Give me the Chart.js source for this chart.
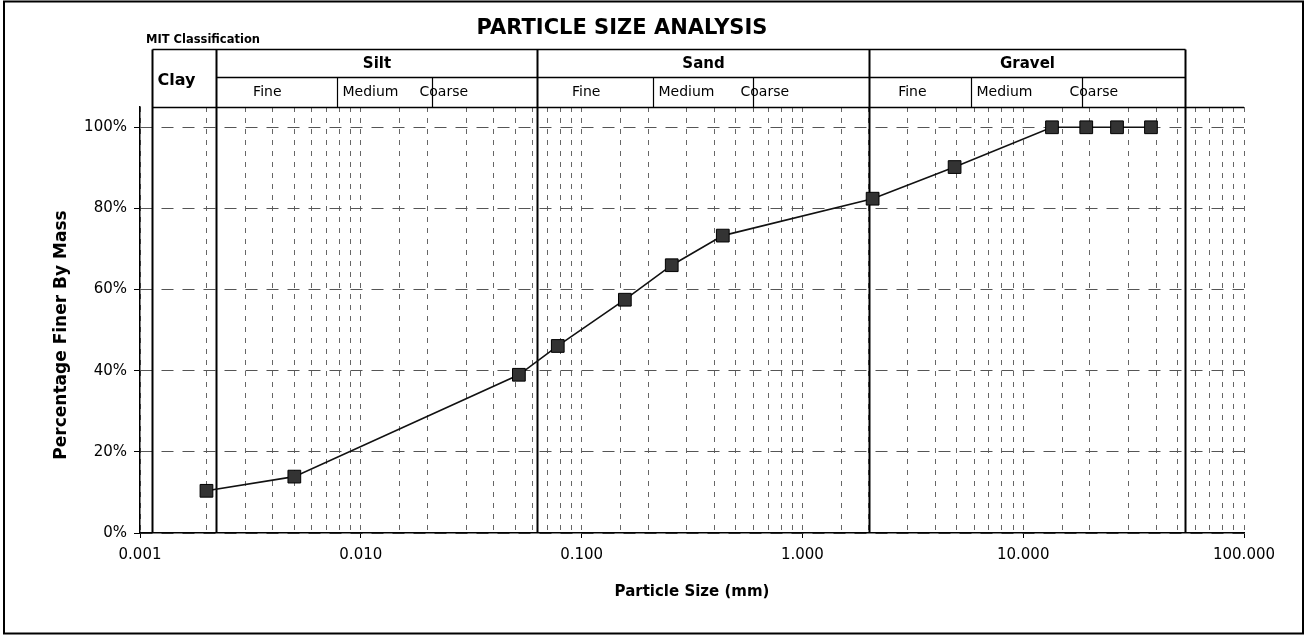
<!DOCTYPE html>
<html>
<head>
<meta charset="utf-8">
<title>Particle Size Analysis</title>
<script src="https://cdn.jsdelivr.net/npm/chart.js@4.4.1/dist/chart.umd.min.js"></script>
<style>
  html, body { margin: 0; padding: 0; background: #fff; }
  #wrap { width: 1311px; height: 637px; position: relative; }
</style>
</head>
<body>
<div id="wrap"><canvas id="psdChart"></canvas></div>
<script>
// sieve / hydrometer results
const particleSize = [0.002, 0.005, 0.052, 0.078, 0.157, 0.256, 0.436, 2.08, 4.89, 13.5, 19.3, 26.6, 37.9];
const percentFiner = [10.4, 13.9, 39.0, 46.1, 57.5, 66.0, 73.3, 82.4, 90.2, 100, 100, 100, 100];

// MIT classification as drawn on the sheet (mm)
const mainClasses = ["Clay", "Silt", "Sand", "Gravel"];
const mainLimits = [0.00113, 0.0022, 0.063, 2.0, 54];
const subClasses = ["Fine", "Medium", "Coarse"];
const siltSplits = [0.0078, 0.021];
const sandSplits = [0.21, 0.6];
const gravelSplits = [5.8, 18.5];

const FONT = "DejaVu Sans";
Chart.defaults.font.family = FONT;
Chart.defaults.color = "#000";

function isDecade(v) {
  const l = Math.log10(v);
  return Math.abs(l - Math.round(l)) < 1e-9;
}

const mitTable = {
  id: "mitTable",
  beforeDatasetsDraw(chart) {
    const ctx = chart.ctx;
    const xs = chart.scales.x;
    const area = chart.chartArea;
    const px = v => Math.round(xs.getPixelForValue(v)) + 0.5;
    const top = 49.5, mid = 77.5, bot = area.top + 0.5;

    ctx.save();
    ctx.strokeStyle = "#000";

    // heavy boundary lines, through the table and down to the axis
    ctx.lineWidth = 2;
    mainLimits.forEach(v => {
      ctx.beginPath();
      ctx.moveTo(px(v), top);
      ctx.lineTo(px(v), area.bottom);
      ctx.stroke();
    });

    ctx.lineWidth = 1.5;
    ctx.beginPath();
    ctx.moveTo(px(mainLimits[0]), top);
    ctx.lineTo(px(mainLimits[4]), top);
    ctx.moveTo(px(mainLimits[1]), mid);
    ctx.lineTo(px(mainLimits[4]), mid);
    ctx.moveTo(px(mainLimits[0]), bot);
    ctx.lineTo(area.right, bot);
    ctx.stroke();

    const splits = [siltSplits, sandSplits, gravelSplits];
    ctx.lineWidth = 1.2;
    splits.forEach(s => {
      s.forEach(v => {
        ctx.beginPath();
        ctx.moveTo(px(v), mid);
        ctx.lineTo(px(v), bot);
        ctx.stroke();
      });
    });

    // labels
    ctx.fillStyle = "#000";
    ctx.textBaseline = "middle";

    ctx.font = "bold 11.5px " + FONT;
    ctx.textAlign = "left";
    ctx.fillText("MIT Classification", 146, 40);

    ctx.font = "bold 16px " + FONT;
    ctx.fillText(mainClasses[0], px(mainLimits[0]) + 5, 81);

    ctx.font = "bold 15px " + FONT;
    ctx.textAlign = "center";
    for (let i = 1; i < mainClasses.length; i++) {
      const c = (px(mainLimits[i]) + px(mainLimits[i + 1])) / 2;
      ctx.fillText(mainClasses[i], c, 64);
    }

    ctx.font = "14px " + FONT;
    splits.forEach((s, i) => {
      const left = px(mainLimits[i + 1]);
      ctx.textAlign = "center";
      ctx.fillText(subClasses[0], left + 0.42 * (px(s[0]) - left), 92);
      ctx.textAlign = "left";
      ctx.fillText(subClasses[1], px(s[0]) + 5, 92);
      ctx.fillText(subClasses[2], px(s[1]) - 13, 92);
    });

    ctx.restore();
  },
  afterDraw(chart) {
    const ctx = chart.ctx;
    ctx.save();
    // y axis title, sits a little below the middle of the plot on the sheet
    ctx.fillStyle = "#000";
    ctx.font = "bold 17px " + FONT;
    ctx.textAlign = "center";
    ctx.textBaseline = "middle";
    ctx.translate(62, 335);
    ctx.rotate(-Math.PI / 2);
    ctx.fillText("Percentage Finer By Mass", 0, 0);
    ctx.restore();

    ctx.save();
    ctx.strokeStyle = "#000";
    ctx.lineWidth = 2;
    ctx.strokeRect(4, 1.5, 1299, 632);
    ctx.restore();
  }
};

const ctx = document.getElementById("psdChart").getContext("2d");
new Chart(ctx, {
  type: "line",
  data: {
    datasets: [{
      label: "Percentage Finer",
      data: particleSize.map((s, i) => ({ x: s, y: percentFiner[i] })),
      borderColor: "#111",
      borderWidth: 1.6,
      pointStyle: "rect",
      pointRadius: 9,
      pointBackgroundColor: "#333",
      pointBorderColor: "#000",
      pointBorderWidth: 1,
      tension: 0,
      fill: false
    }]
  },
  options: {
    responsive: true,
    maintainAspectRatio: false,
    animation: false,
    layout: { padding: { left: 0, right: 67, top: 0, bottom: 0 } },
    plugins: {
      legend: { display: false },
      tooltip: { enabled: false },
      title: {
        display: true,
        text: "PARTICLE SIZE ANALYSIS",
        font: { size: 21, weight: "bold" },
        color: "#000",
        padding: { top: 16, bottom: 65.8 }
      }
    },
    scales: {
      x: {
        type: "logarithmic",
        min: 0.001,
        max: 100,
        afterFit: s => { s.height = 104; },
        ticks: {
          autoSkip: false,
          maxRotation: 0,
          padding: 8,
          font: { size: 15 },
          callback: v => isDecade(v) ? Number(v).toFixed(3) : ""
        },
        grid: {
          color: "#666",
          lineWidth: 1,
          tickLength: 5,
          tickColor: c => (c.tick && isDecade(c.tick.value)) ? "#000" : "rgba(0,0,0,0)"
        },
        border: { display: true, color: "#000", width: 1.5, dash: [5, 6] },
        title: {
          display: true,
          text: "Particle Size (mm)",
          font: { size: 15, weight: "bold" },
          padding: { top: 0, bottom: 36 }
        }
      },
      y: {
        type: "linear",
        min: 0,
        max: 105,
        afterFit: s => { s.width = 140; },
        ticks: {
          stepSize: 20,
          includeBounds: false,
          padding: 7,
          font: { size: 15 },
          callback: v => v + "%"
        },
        grid: {
          color: "#555",
          lineWidth: 1,
          tickLength: 6,
          tickColor: "#000"
        },
        border: { display: true, color: "#000", width: 1.5, dash: [12, 9] },
        title: { display: false }
      }
    }
  },
  plugins: [mitTable]
});
</script>
</body>
</html>
